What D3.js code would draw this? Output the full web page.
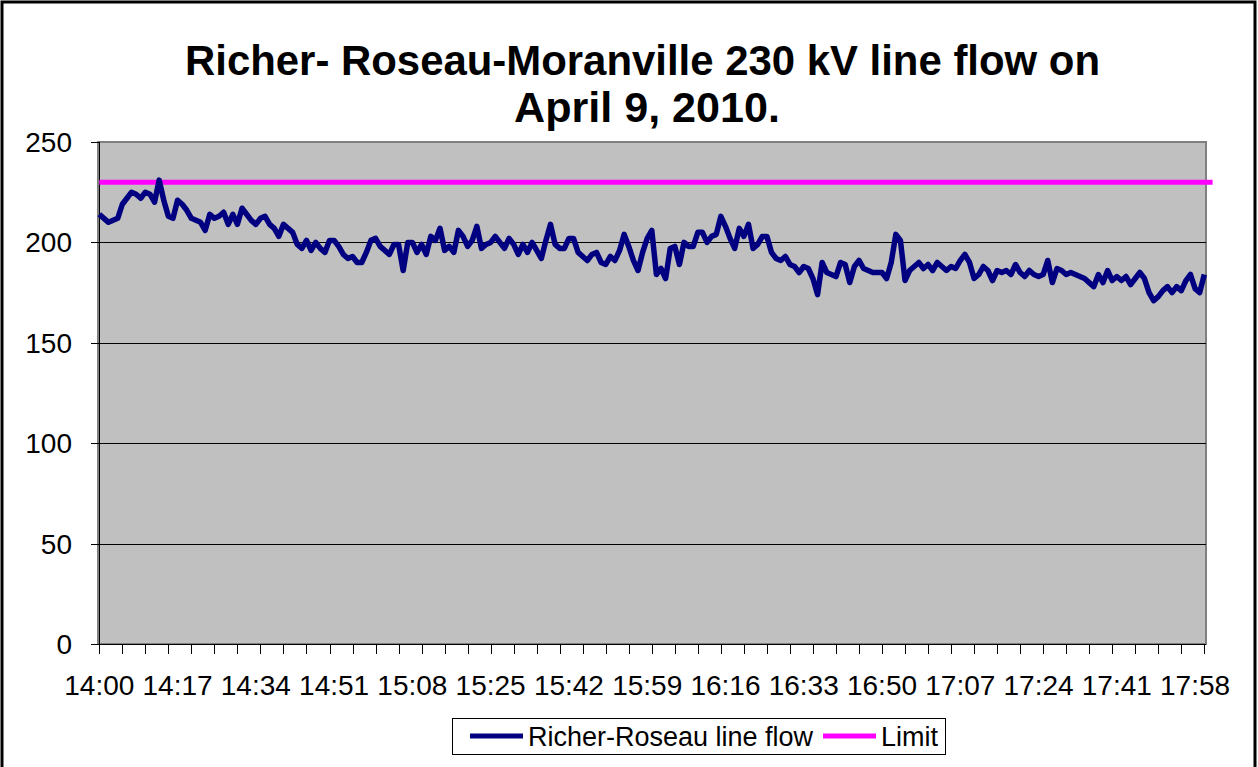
<!DOCTYPE html>
<html>
<head>
<meta charset="utf-8">
<script src="https://cdn.jsdelivr.net/npm/d3@7"></script>
<style>
  body { margin: 0; background: #fff; }
  text { font-family: "Liberation Sans", Arial, sans-serif; fill: #000; }
</style>
</head>
<body>
<svg id="chart"></svg>
<script>
// line flow, one reading per minute starting 14:00 (MW)
const flow = [
  214,212,210,211,212,219,222,225,224,222,
  225,224,220,231,221,213,212,221,219,216,
  212,211,210,206,214,212,213,215,209,214,
  209,217,214,211,209,212,213,209,207,203,
  209,207,205,199,197,201,196,200,197,195,
  201,201,198,194,192,193,190,190,195,201,
  202,198,196,194,199,199,186,200,200,195,
  199,194,203,201,207,196,198,195,206,203,
  198,201,208,197,199,200,203,200,197,202,
  199,194,199,195,200,196,192,201,209,199,
  197,197,202,202,195,193,191,194,195,190,
  189,193,191,196,204,198,191,186,195,202,
  206,184,187,182,197,198,189,200,198,198,
  205,205,200,203,204,213,208,202,197,207,
  203,209,197,199,203,203,195,192,191,193,
  189,188,185,188,187,182,174,190,185,184,
  183,190,189,180,188,191,187,186,185,185,
  185,182,190,204,201,181,186,188,190,187,
  189,186,190,188,186,188,187,191,194,190,
  182,184,188,186,181,186,185,186,184,189,
  185,183,186,184,183,184,191,180,187,186,
  184,185,184,183,182,180,178,184,180,186,
  181,183,181,183,179,182,185,182,175,171,
  173,176,178,175,178,176,181,184,177,175,
  184
];
const limitValue = 230;
const timeLabels = ["14:00","14:17","14:34","14:51","15:08","15:25","15:42","15:59",
                    "16:16","16:33","16:50","17:07","17:24","17:41","17:58"];
const yTicks = [0, 50, 100, 150, 200, 250];
const titleLines = ["Richer- Roseau-Moranville 230 kV line flow on", "April 9, 2010."];
const seriesNames = ["Richer-Roseau line flow", "Limit"];
const seriesColors = ["#000080", "#ff00ff"];

const width = 1258, height = 767;
const svg = d3.select("#chart").attr("width", width).attr("height", height);

// outer chart border
svg.append("rect")
  .attr("x", 2).attr("y", 2).attr("width", 1253).attr("height", 800)
  .attr("fill", "#fff").attr("stroke", "#000").attr("stroke-width", 3);

// title
svg.selectAll("text.title")
  .data(titleLines)
  .enter().append("text")
  .attr("class", "title")
  .attr("x", (d, i) => i == 0 ? 185 : 514)
  .attr("y", (d, i) => 75 + i * 47)
  .attr("textLength", (d, i) => i == 0 ? 915 : 266)
  .attr("lengthAdjust", "spacingAndGlyphs")
  .style("font-size", "42px")
  .style("font-weight", "bold")
  .text(d => d);

var x = d3.scaleLinear().domain([0, 240]).range([99.3, 1204.3]);
var y = d3.scaleLinear().domain([0, 250]).range([644, 142]);

// plot area
svg.append("rect")
  .attr("x", 98).attr("y", 142)
  .attr("width", 1108).attr("height", 502)
  .attr("fill", "#c0c0c0").attr("stroke", "#808080").attr("stroke-width", 2);

// gridlines
svg.selectAll("line.grid")
  .data(yTicks.filter(v => v > 0 && v < 250))
  .enter().append("line")
  .attr("x1", 99).attr("x2", 1206)
  .attr("y1", d => Math.round(y(d)) + 0.5)
  .attr("y2", d => Math.round(y(d)) + 0.5)
  .attr("stroke", "#000").attr("stroke-width", 1);

// y axis
svg.append("line")
  .attr("x1", 99.5).attr("x2", 99.5).attr("y1", 142).attr("y2", 645)
  .attr("stroke", "#000");
svg.selectAll("line.ytick")
  .data(yTicks)
  .enter().append("line")
  .attr("x1", 91).attr("x2", 99)
  .attr("y1", d => Math.round(y(d)) + 0.5)
  .attr("y2", d => Math.round(y(d)) + 0.5)
  .attr("stroke", "#000");
svg.selectAll("text.ylab")
  .data(yTicks)
  .enter().append("text")
  .attr("x", 72)
  .attr("y", d => y(d) + 10)
  .attr("text-anchor", "end")
  .style("font-size", "28px")
  .text(d => d);

// x axis
svg.append("line")
  .attr("x1", 99).attr("x2", 1206).attr("y1", 644.5).attr("y2", 644.5)
  .attr("stroke", "#000");
svg.selectAll("line.xtick")
  .data(d3.range(0, 241, 5))
  .enter().append("line")
  .attr("x1", d => Math.round(x(d)) + 0.5)
  .attr("x2", d => Math.round(x(d)) + 0.5)
  .attr("y1", 644).attr("y2", 654)
  .attr("stroke", "#000");
svg.selectAll("text.xlab")
  .data(timeLabels)
  .enter().append("text")
  .attr("x", (d, i) => x(i * 17))
  .attr("y", 695)
  .attr("text-anchor", "middle")
  .style("font-size", "28px")
  .text(d => d);

// limit line
svg.append("path")
  .datum([0, 241.8])
  .attr("d", d3.line().x(d => x(d)).y(() => y(limitValue)))
  .attr("fill", "none")
  .attr("stroke", seriesColors[1])
  .attr("stroke-width", 5);

// flow line
svg.append("path")
  .datum(flow)
  .attr("d", d3.line().x((d, i) => x(i)).y(d => y(d)))
  .attr("fill", "none")
  .attr("stroke", seriesColors[0])
  .attr("stroke-width", 5.5)
  .attr("stroke-linejoin", "round");

// legend
var legend = svg.append("g");
legend.append("rect")
  .attr("x", 452.5).attr("y", 718.5).attr("width", 493).attr("height", 36)
  .attr("fill", "#fff").attr("stroke", "#000");
var legendX = [470, 823];
seriesNames.forEach(function(name, i) {
  legend.append("line")
    .attr("x1", legendX[i]).attr("x2", legendX[i] + 53)
    .attr("y1", 736).attr("y2", 736)
    .attr("stroke", seriesColors[i]).attr("stroke-width", 5);
  legend.append("text")
    .attr("x", legendX[i] + 58)
    .attr("y", 746)
    .style("font-size", "27px")
    .text(name);
});
</script>
</body>
</html>
